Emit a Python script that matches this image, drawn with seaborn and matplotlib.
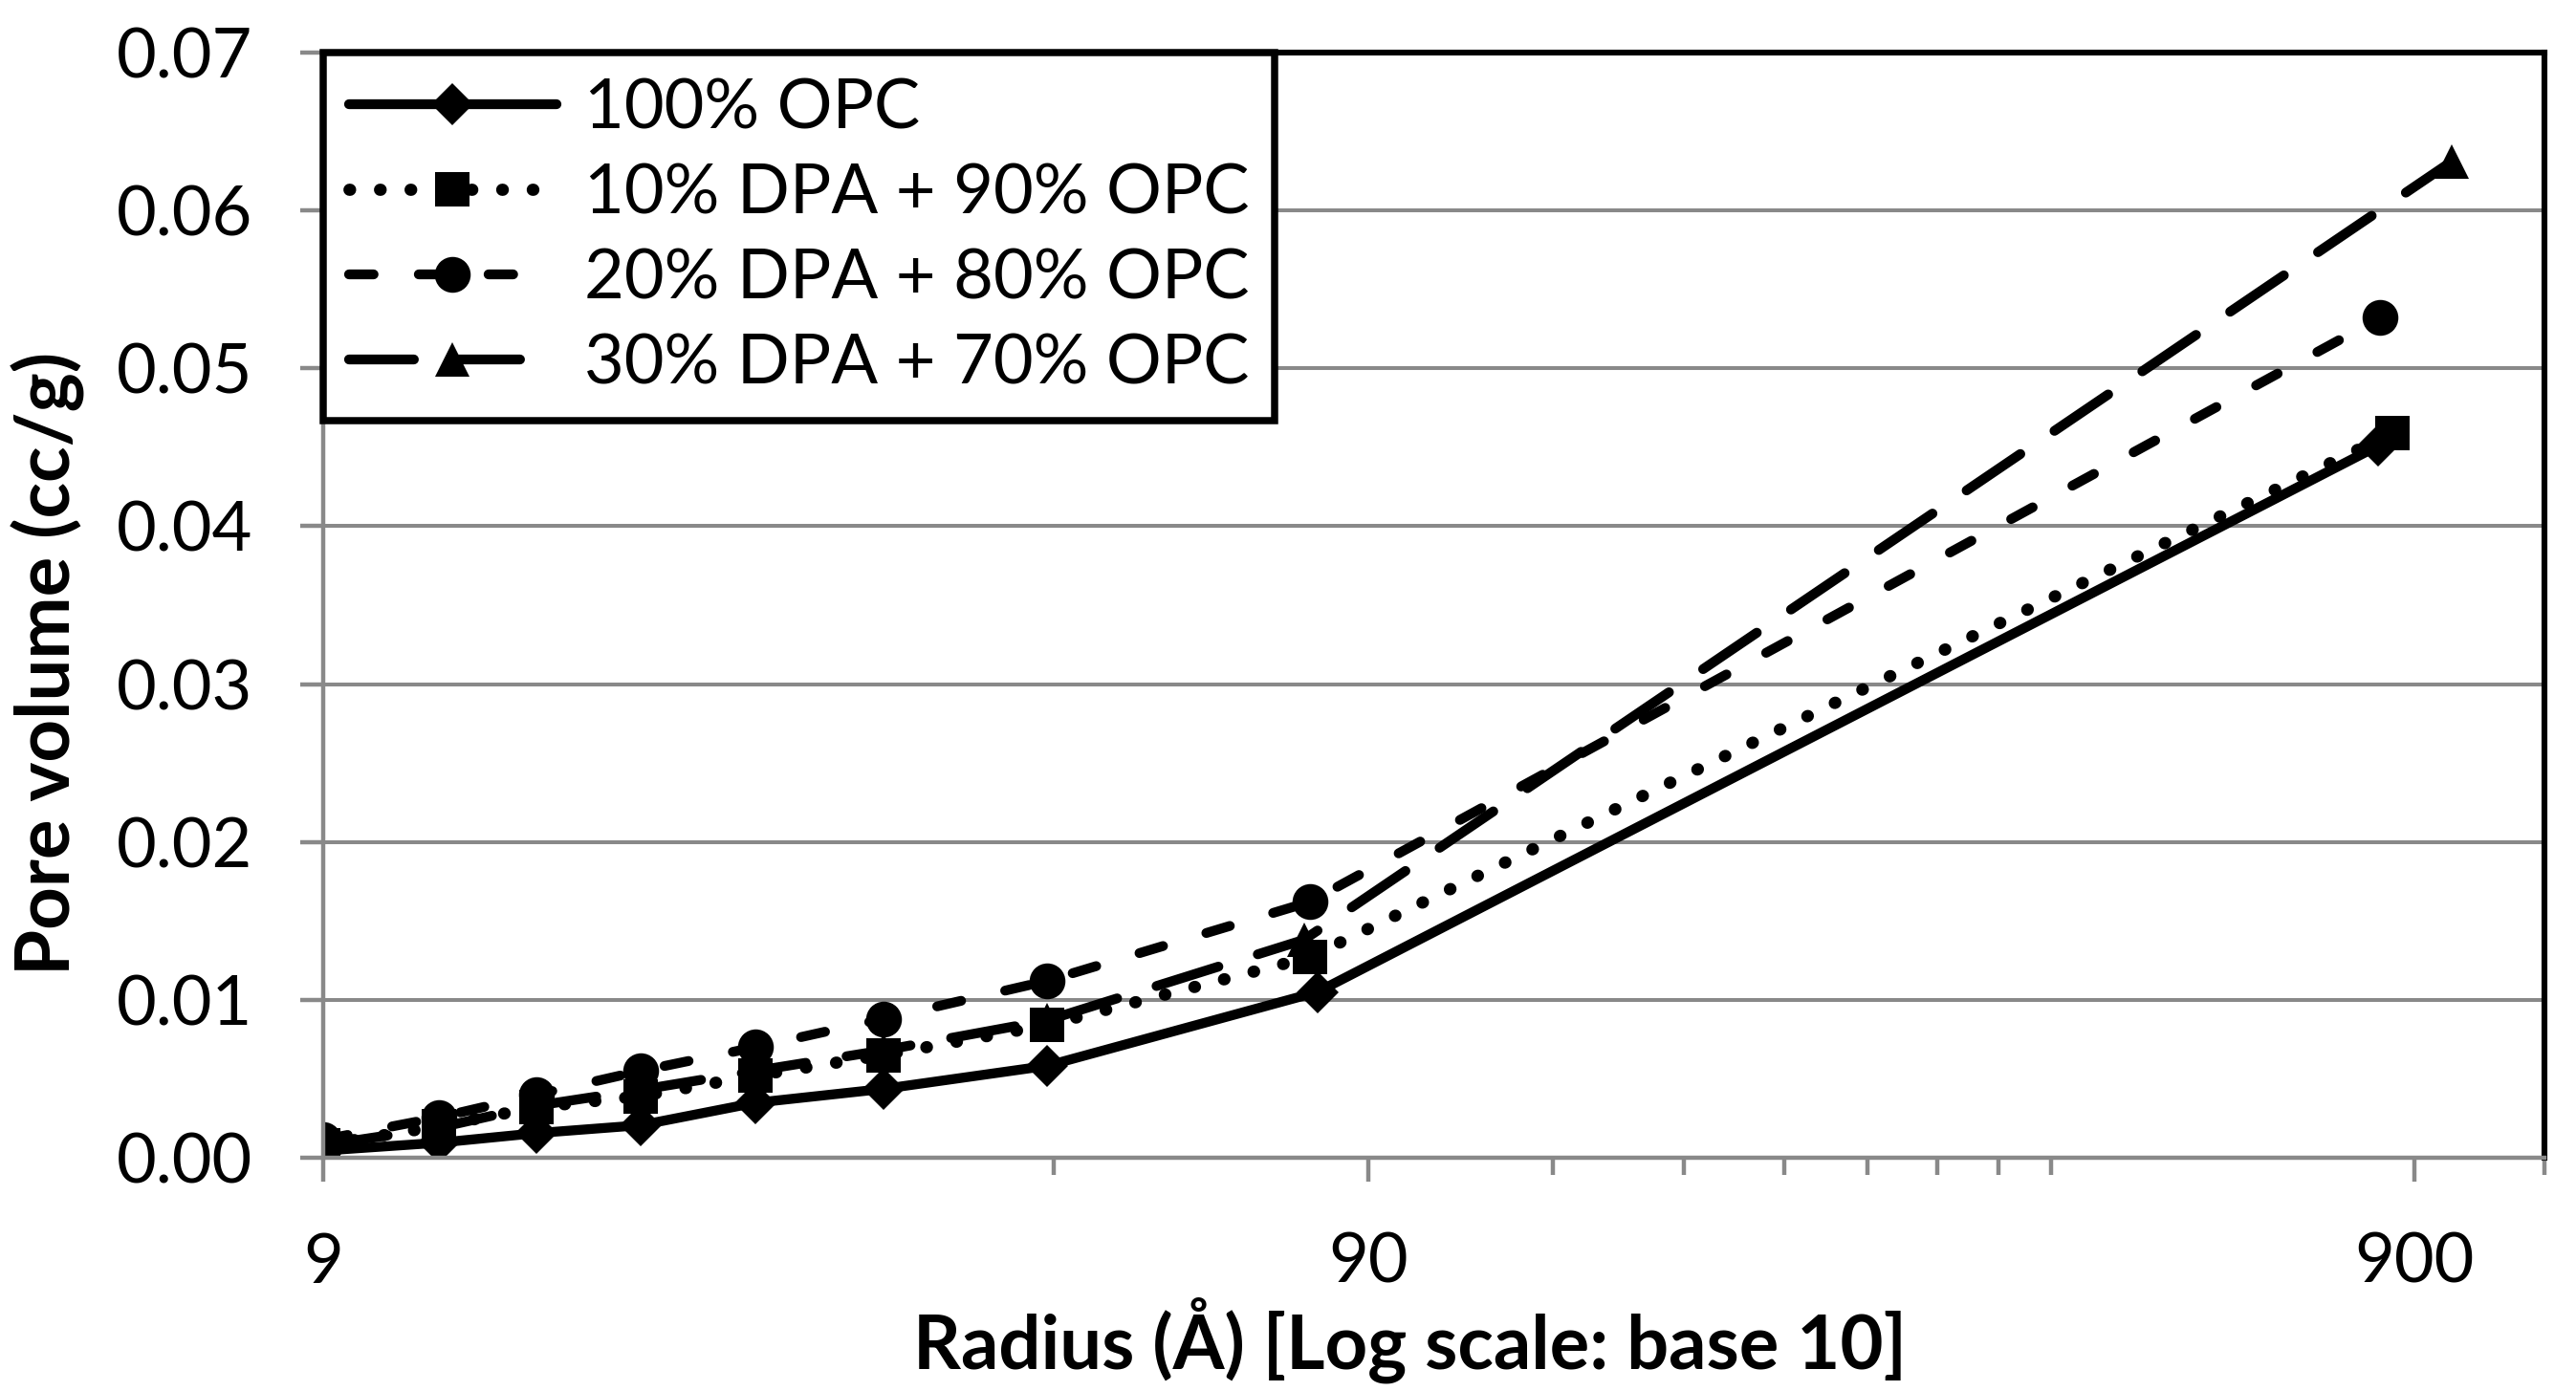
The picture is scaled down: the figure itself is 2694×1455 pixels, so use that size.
import matplotlib
matplotlib.use('Agg')
import pandas as pd
import seaborn as sns
from matplotlib import pyplot as plt
from matplotlib.ticker import FixedFormatter, FixedLocator, FormatStrFormatter, NullFormatter


# Pore radius (Angstrom), one list per mix
radius_opc100 = [9.0, 11.6, 14.4, 18.1, 23.3, 30.9, 44.3, 80.4, 832]
radius_dpa10 = [9.0, 11.6, 14.4, 18.1, 23.3, 30.9, 44.3, 79.0, 858]
radius_dpa20 = [9.0, 11.6, 14.4, 18.1, 23.3, 30.9, 44.3, 79.0, 835]
radius_dpa30 = [9.0, 11.6, 14.4, 18.1, 23.3, 30.9, 44.3, 78.0, 978]

# Cumulative pore volume (cc/g)
pv_opc100 = [0.00045, 0.00095, 0.00156, 0.00206, 0.00348, 0.00436, 0.00582, 0.0105, 0.0451]
pv_dpa10 = [0.0008, 0.0020, 0.0032, 0.0039, 0.0052, 0.0065, 0.0084, 0.0127, 0.0459]
pv_dpa20 = [0.00115, 0.00255, 0.0040, 0.0055, 0.0070, 0.0088, 0.0112, 0.0162, 0.0532]
pv_dpa30 = [0.0008, 0.0019, 0.0033, 0.0043, 0.0055, 0.0068, 0.0087, 0.0138, 0.0631]

labels = ['100% OPC', '10% DPA + 90% OPC', '20% DPA + 80% OPC', '30% DPA + 70% OPC']

x_major = [9, 90, 900]
x_major_labels = ['9', '90', '900']
x_minor = [45, 135, 180, 225, 270, 315, 360, 405, 1200]

GRAY = '#898989'


def main():
    sns.set_style('white')
    plt.rcParams['font.family'] = ['Lato', 'DejaVu Sans']

    fig = plt.figure(figsize=(13.47, 7.275), dpi=200)
    ax = fig.add_axes([0.1256, 0.1677, 0.9878 - 0.1256, 0.9622 - 0.1677])

    # marker, marker size, line width, line style
    series = [
        (radius_opc100, pv_opc100, 'D', 11, 3.7, '-'),
        (radius_dpa10, pv_dpa10, 's', 13, 4.6, (0, (0.05, 2.45))),
        (radius_dpa20, pv_dpa20, 'o', 13.5, 3.7, (0, (2.5, 4.6))),
        (radius_dpa30, pv_dpa30, '^', 13, 3.7, (0, (6.6, 4.2))),
    ]

    for (r, pv, mk, ms, lw, ls), lab in zip(series, labels):
        df = pd.DataFrame({'radius': r, 'pore_volume': pv})
        sns.lineplot(data=df, x='radius', y='pore_volume', ax=ax, color='black',
                     linewidth=lw, linestyle=ls, marker=mk, markersize=ms,
                     markeredgewidth=0, dash_capstyle='round', solid_capstyle='round',
                     label=lab, estimator=None, sort=False)

    ax.set_xscale('log')
    ax.set_xlim(9, 1200)
    ax.set_ylim(0, 0.07)

    ax.xaxis.set_major_locator(FixedLocator(x_major))
    ax.xaxis.set_major_formatter(FixedFormatter(x_major_labels))
    ax.xaxis.set_minor_locator(FixedLocator(x_minor))
    ax.xaxis.set_minor_formatter(NullFormatter())
    ax.yaxis.set_major_locator(FixedLocator([0.0, 0.01, 0.02, 0.03, 0.04, 0.05, 0.06, 0.07]))
    ax.yaxis.set_major_formatter(FormatStrFormatter('%.2f'))

    ax.tick_params(axis='x', which='major', bottom=True, length=9, width=1.6,
                   color=GRAY, pad=19, labelsize=26, labelcolor='black')
    ax.tick_params(axis='x', which='minor', bottom=True, length=6.5, width=1.6, color=GRAY)
    ax.tick_params(axis='y', which='major', left=True, length=8.8, width=1.6,
                   color=GRAY, pad=18, labelsize=26, labelcolor='black')

    ax.yaxis.grid(True, color=GRAY, linewidth=1.45)
    ax.xaxis.grid(False)
    ax.set_axisbelow(True)

    for side in ['left', 'bottom']:
        ax.spines[side].set_color(GRAY)
        ax.spines[side].set_linewidth(1.6)
    for side in ['top', 'right']:
        ax.spines[side].set_color('black')
        ax.spines[side].set_linewidth(2.2)

    ax.set_xlabel('Radius (Å) [Log scale: base 10]', fontsize=28, fontweight='bold',
                  color='black')
    ax.set_ylabel('Pore volume (cc/g)', fontsize=28, fontweight='bold', color='black')
    ax.xaxis.set_label_coords(0.489, -0.165)
    ax.xaxis.label.set_va('center')
    ax.yaxis.set_label_coords(-0.124, 0.447)
    ax.yaxis.label.set_va('center')

    leg = ax.legend(loc='upper left', bbox_to_anchor=(0, 1), borderaxespad=0,
                    frameon=True, fancybox=False, edgecolor='black', framealpha=1,
                    fontsize=26, handlelength=3.0, handletextpad=0.4,
                    borderpad=0.37, labelspacing=0.33)
    leg.get_frame().set_linewidth(2.7)
    for txt in leg.get_texts():
        txt.set_color('black')

    fig.savefig('out.png', dpi=200, facecolor='white')


if __name__ == '__main__':
    main()
